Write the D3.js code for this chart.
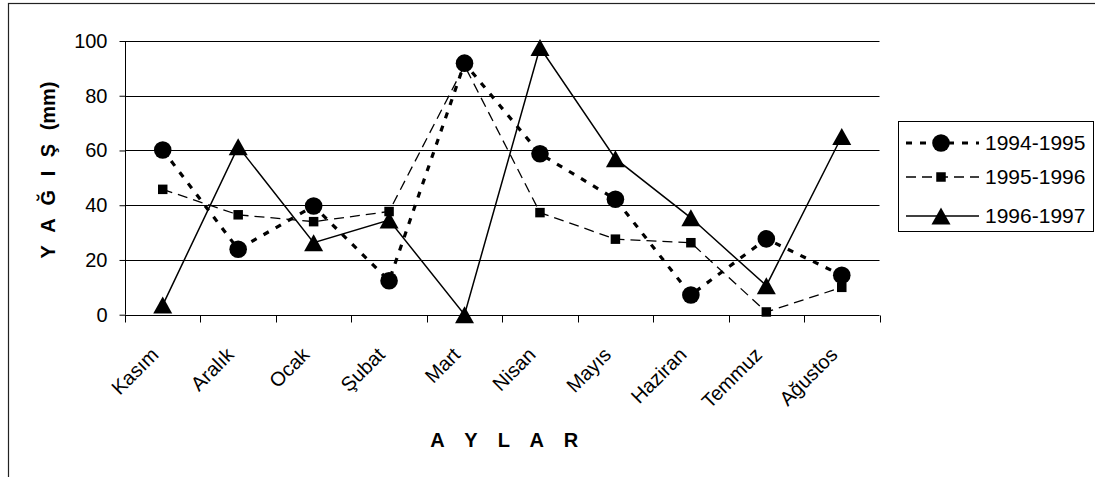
<!DOCTYPE html>
<html><head><meta charset="utf-8">
<script src="https://cdn.jsdelivr.net/npm/d3@7"></script>
<style>
html,body{margin:0;padding:0;background:#fff;}
svg{display:block;font-family:"Liberation Sans",Arial,sans-serif;}
</style></head>
<body><svg id="c" width="1095" height="477"></svg>
<script>
const months = ["Kasım","Aralık","Ocak","Şubat","Mart","Nisan","Mayıs","Haziran","Temmuz","Ağustos"];
const s1994 = [60.2, 23.9, 39.7, 12.4, 91.9, 58.8, 42.2, 7.2, 27.7, 14.4];
const s1995 = [45.8, 36.5, 34.0, 37.7, 91.0, 37.3, 27.6, 26.3, 1.0, 10.0];
const s1996 = [3.5, 61.4, 26.3, 34.6, 0.0, 97.6, 57.0, 35.4, 10.6, 65.1];
const seriesNames = ["1994-1995","1995-1996","1996-1997"];
const yTicks = [0,20,40,60,80,100];

const svg = d3.select("#c");
svg.append("rect").attr("x",8.5).attr("y",3.5).attr("width",1200).attr("height",600)
  .attr("fill","none").attr("stroke","#222").attr("stroke-width",1.2);

const x = d3.scaleBand().domain(months).range([125,879.5]);
const y = d3.scaleLinear().domain([0,100]).range([314.7,41]);

// gridlines
svg.append("g").selectAll("line").data(yTicks.filter(d=>d>0)).join("line")
  .attr("x1",125).attr("x2",879.5).attr("y1",d=>Math.round(y(d))+0.5).attr("y2",d=>Math.round(y(d))+0.5)
  .attr("stroke","#000").attr("stroke-width",1);

// y axis
const yAxis = d3.axisLeft(y).tickValues(yTicks).tickSize(6).tickPadding(12).tickFormat(d3.format("d"));
const gy = svg.append("g").attr("transform","translate(125.5,0)").call(yAxis);
gy.select(".domain").attr("d","M0,"+y(100)+"V"+y(0)).attr("stroke","#000");
gy.selectAll("text").attr("font-size",20).attr("fill","#000").attr("font-family","Liberation Sans, Arial");
gy.selectAll(".tick line").attr("stroke","#000");

// x axis
const xAxis = d3.axisBottom(x).tickSize(0).tickFormat("");
const gx = svg.append("g").attr("transform","translate(0,"+(Math.round(y(0))+0.5)+")").call(xAxis);
gx.select(".domain").attr("d","M125,0H879.5").attr("stroke","#000");
gx.selectAll(".tick").remove();
const bounds = months.map(m=>x(m)).concat([x.range()[1]]);
gx.selectAll("line.tk").data(bounds).join("line").attr("class","tk")
  .attr("x1",d=>Math.round(d)+0.5).attr("x2",d=>Math.round(d)+0.5).attr("y1",0).attr("y2",7).attr("stroke","#000");

// x labels
svg.append("g").selectAll("text").data(months).join("text")
  .attr("transform",d=>"translate("+(x(d)+x.bandwidth()/2-3)+",356) rotate(-45)")
  .attr("text-anchor","end").attr("font-size",20).attr("fill","#000").text(d=>d);

// axis titles
svg.append("text").attr("x",508).attr("y",447).attr("text-anchor","middle")
  .attr("font-size",20).attr("font-weight","bold").attr("letter-spacing","7.5px").text("A Y L A R");
const yt = svg.append("text").attr("transform","translate(55,170) rotate(-90)").attr("text-anchor","middle")
  .attr("font-size",20).attr("font-weight","bold");
yt.append("tspan").attr("letter-spacing","4px").text("Y A Ğ I Ş ");
yt.append("tspan").text("(mm)");

const cx = d => x(d) + x.bandwidth()/2;
const styles = [
  {data:s1994, dash:"6,8", width:3.2, marker:"circle"},
  {data:s1995, dash:"10,6", width:1.3, marker:"square"},
  {data:s1996, dash:null, width:1.5, marker:"triangle"}
];
const line = d3.line().x((d,i)=>cx(months[i])).y(d=>y(d));
const symbols = {
  circle: d3.symbol().type(d3.symbolCircle).size(Math.PI*8.8*8.8),
  square: d3.symbol().type(d3.symbolSquare).size(9.5*9.5)
};
function triPath(w,h){ return "M0,"+(-h/2)+"L"+(w/2)+","+(h/2)+"L"+(-w/2)+","+(h/2)+"Z"; }
function markerPath(m){ return m==="triangle" ? triPath(19,17) : symbols[m](); }

styles.forEach(s=>{
  svg.append("path").datum(s.data).attr("d",line).attr("fill","none").attr("stroke","#000")
    .attr("stroke-width",s.width).attr("stroke-dasharray",s.dash);
});
styles.forEach(s=>{
  svg.append("g").selectAll("path").data(s.data).join("path")
    .attr("transform",(d,i)=>"translate("+cx(months[i])+","+y(d)+")")
    .attr("d",markerPath(s.marker)).attr("fill","#000");
});

// legend
const lg = svg.append("g");
lg.append("rect").attr("x",898.5).attr("y",121.5).attr("width",195).attr("height",110)
  .attr("fill","#fff").attr("stroke","#000").attr("stroke-width",1);
const rowY = [143, 177, 216];
styles.forEach((s,i)=>{
  lg.append("line").attr("x1",906).attr("x2",979).attr("y1",rowY[i]).attr("y2",rowY[i])
    .attr("stroke","#000").attr("stroke-width",s.width).attr("stroke-dasharray",s.dash);
  lg.append("path").attr("transform","translate(941,"+rowY[i]+")").attr("d",markerPath(s.marker)).attr("fill","#000");
  lg.append("text").attr("x",985).attr("y",rowY[i]+6.5).attr("font-size",21).attr("fill","#000").text(seriesNames[i]);
});
</script></body></html>
